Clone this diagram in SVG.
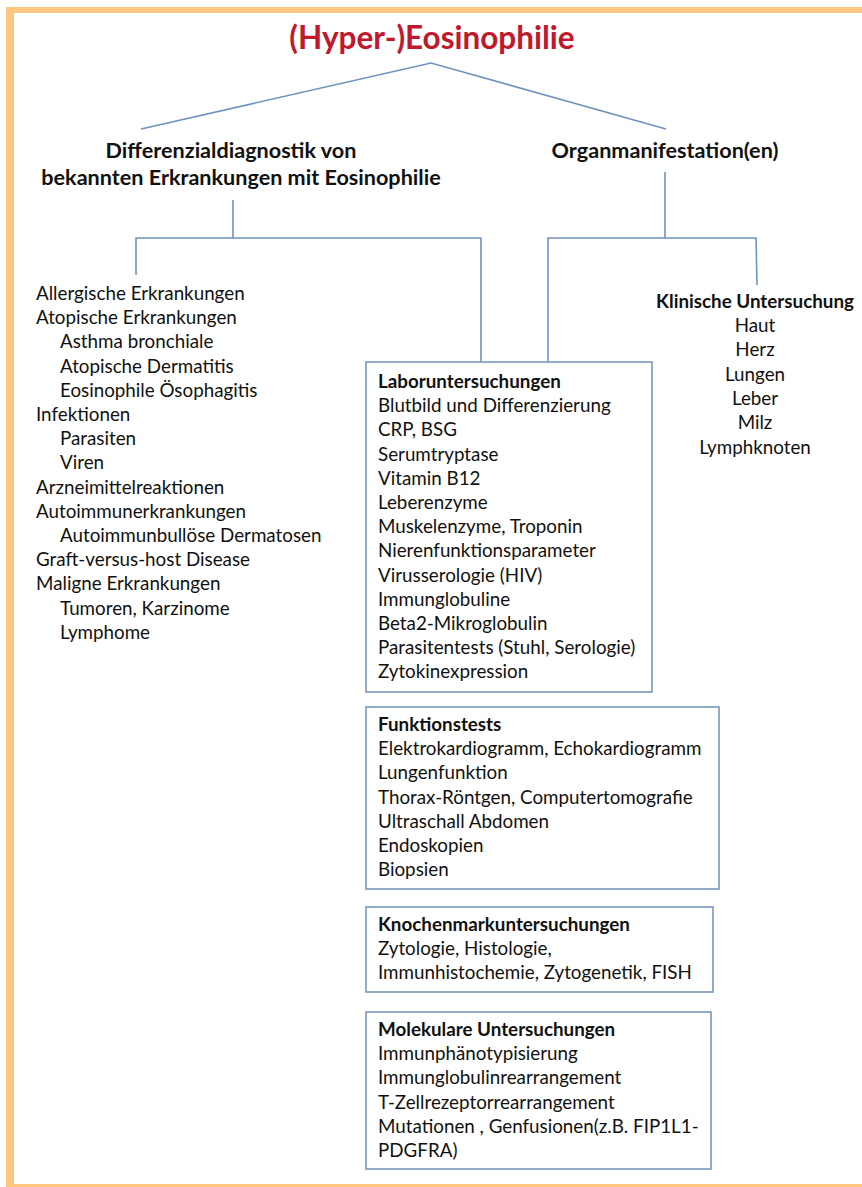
<svg xmlns="http://www.w3.org/2000/svg" width="862" height="1187" viewBox="0 0 862 1187">
<style>
.t{font-family:Lato,"Liberation Sans",sans-serif;font-size:18.8px;fill:#111}
.b{font-weight:bold}
.h{font-family:Lato,"Liberation Sans",sans-serif;font-size:21.6px;font-weight:bold;fill:#111;text-anchor:middle}
.c{text-anchor:middle}
.box{fill:#fff;stroke:#7A97BD;stroke-width:1.6}
.ln{fill:none;stroke:#6F93C0;stroke-width:1.6}
.fr{fill:#FFC680}
</style>
<rect width="862" height="1187" fill="#fff"/>
<g id="frame">
<rect class="fr" x="6" y="7" width="8" height="1180"/>
<rect class="fr" x="6" y="7" width="856" height="6"/>
<rect class="fr" x="6" y="1184" width="856" height="3"/>
</g>
<g id="connectors">
<polyline class="ln" points="141,129 431,63 666,129"/>
<line class="ln" x1="233" y1="200" x2="233" y2="238"/>
<polyline class="ln" points="136,275 136,238 481,238 481,362"/>
<line class="ln" x1="665" y1="172" x2="665" y2="238"/>
<polyline class="ln" points="548,362 548,238 756,238 757,285"/>
</g>
<g id="title">
<text x="432" y="49" class="c" style="font-family:Lato,'Liberation Sans',sans-serif;font-size:31.5px;font-weight:bold;fill:#C0182C">(Hyper-)Eosinophilie</text>
</g>
<g id="differenzialdiagnostik">
<text x="231" y="158" class="h">Differenzialdiagnostik von</text>
<text x="241" y="185" class="h">bekannten Erkrankungen mit Eosinophilie</text>
</g>
<g id="organmanifestation">
<text x="665" y="158" class="h">Organmanifestation(en)</text>
</g>
<g id="erkrankungen">
<text class="t" x="36" y="300">Allergische Erkrankungen</text>
<text class="t" x="36" y="324">Atopische Erkrankungen</text>
<text class="t" x="60" y="348">Asthma bronchiale</text>
<text class="t" x="60" y="373">Atopische Dermatitis</text>
<text class="t" x="60" y="397">Eosinophile Ösophagitis</text>
<text class="t" x="36" y="421">Infektionen</text>
<text class="t" x="60" y="445">Parasiten</text>
<text class="t" x="60" y="469">Viren</text>
<text class="t" x="36" y="494">Arzneimittelreaktionen</text>
<text class="t" x="36" y="518">Autoimmunerkrankungen</text>
<text class="t" x="60" y="542">Autoimmunbullöse Dermatosen</text>
<text class="t" x="36" y="566">Graft-versus-host Disease</text>
<text class="t" x="36" y="590">Maligne Erkrankungen</text>
<text class="t" x="60" y="615">Tumoren, Karzinome</text>
<text class="t" x="60" y="639">Lymphome</text>
</g>
<g id="klinisch">
<text class="t b c" x="755" y="308">Klinische Untersuchung</text>
<text class="t c" x="755" y="332">Haut</text>
<text class="t c" x="755" y="356">Herz</text>
<text class="t c" x="755" y="381">Lungen</text>
<text class="t c" x="755" y="405">Leber</text>
<text class="t c" x="755" y="429">Milz</text>
<text class="t c" x="755" y="454">Lymphknoten</text>
</g>
<g id="labor">
<rect class="box" x="366" y="362" width="286" height="330"/>
<text class="t b" x="378" y="388">Laboruntersuchungen</text>
<text class="t" x="378" y="412">Blutbild und Differenzierung</text>
<text class="t" x="378" y="436">CRP, BSG</text>
<text class="t" x="378" y="461">Serumtryptase</text>
<text class="t" x="378" y="485">Vitamin B12</text>
<text class="t" x="378" y="509">Leberenzyme</text>
<text class="t" x="378" y="533">Muskelenzyme, Troponin</text>
<text class="t" x="378" y="557">Nierenfunktionsparameter</text>
<text class="t" x="378" y="582">Virusserologie (HIV)</text>
<text class="t" x="378" y="606">Immunglobuline</text>
<text class="t" x="378" y="630">Beta2-Mikroglobulin</text>
<text class="t" x="378" y="654">Parasitentests (Stuhl, Serologie)</text>
<text class="t" x="378" y="678">Zytokinexpression</text>
</g>
<g id="funktion">
<rect class="box" x="366" y="707" width="353" height="182"/>
<text class="t b" x="378" y="731">Funktionstests</text>
<text class="t" x="378" y="755">Elektrokardiogramm, Echokardiogramm</text>
<text class="t" x="378" y="779">Lungenfunktion</text>
<text class="t" x="378" y="804">Thorax-Röntgen, Computertomografie</text>
<text class="t" x="378" y="828">Ultraschall Abdomen</text>
<text class="t" x="378" y="852">Endoskopien</text>
<text class="t" x="378" y="876">Biopsien</text>
</g>
<g id="knochenmark">
<rect class="box" x="366" y="907" width="347" height="85"/>
<text class="t b" x="378" y="931">Knochenmarkuntersuchungen</text>
<text class="t" x="378" y="955">Zytologie, Histologie,</text>
<text class="t" x="378" y="979">Immunhistochemie, Zytogenetik, FISH</text>
</g>
<g id="molekular">
<rect class="box" x="366" y="1012" width="345" height="157"/>
<text class="t b" x="378" y="1036">Molekulare Untersuchungen</text>
<text class="t" x="378" y="1060">Immunphänotypisierung</text>
<text class="t" x="378" y="1084">Immunglobulinrearrangement</text>
<text class="t" x="378" y="1109">T-Zellrezeptorrearrangement</text>
<text class="t" x="378" y="1133">Mutationen , Genfusionen(z.B. FIP1L1-</text>
<text class="t" x="378" y="1157">PDGFRA)</text>
</g>
</svg>
